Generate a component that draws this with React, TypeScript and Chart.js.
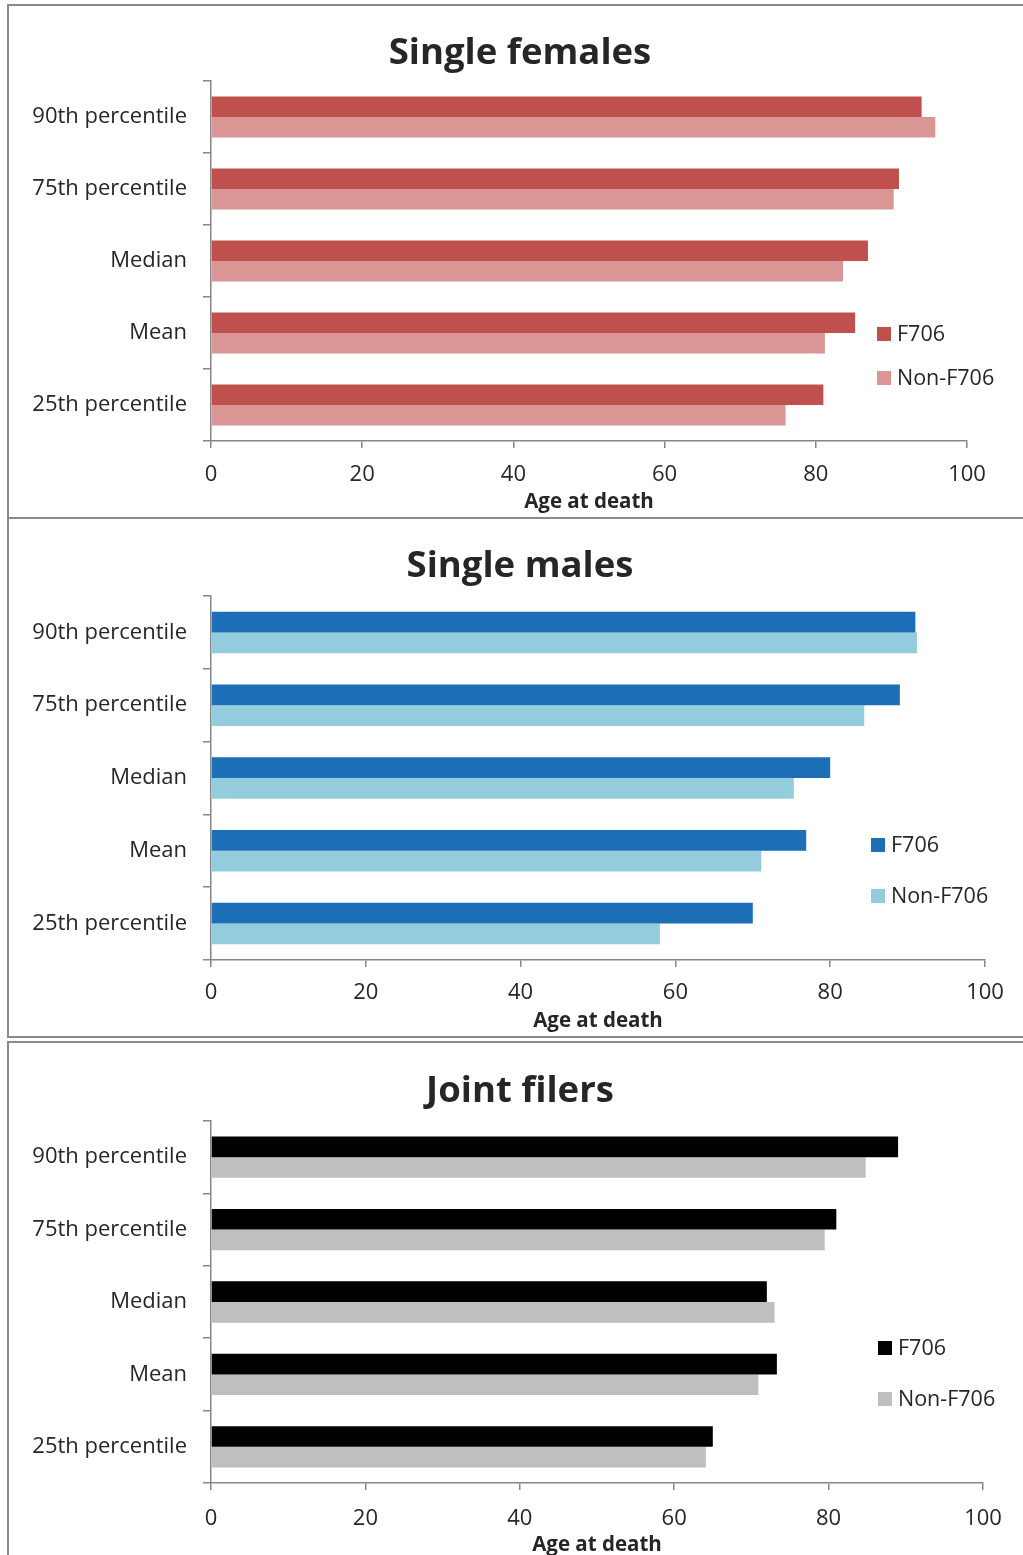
import React, { useEffect, useRef } from "react";
import { Chart, registerables } from "chart.js";

Chart.register(...registerables);

// ---------- data ----------
const categories = ["90th percentile", "75th percentile", "Median", "Mean", "25th percentile"];
const seriesNames = ["F706", "Non-F706"];
const xTickValues = [0, 20, 40, 60, 80, 100];

const femalesF706 = [94.0, 91.0, 86.9, 85.2, 81.0];
const femalesNon = [95.8, 90.3, 83.6, 81.2, 76.0];

const malesF706 = [91.0, 89.0, 80.0, 76.9, 70.0];
const malesNon = [91.2, 84.4, 75.3, 71.1, 58.0];

const jointF706 = [89.0, 81.0, 72.0, 73.3, 65.0];
const jointNon = [84.8, 79.5, 73.0, 70.9, 64.1];

const panelTitles = ["Single females", "Single males", "Joint filers"];
const axisTitle = "Age at death";

// ---------- styles ----------
const FONT = "'Open Sans', 'DejaVu Sans', sans-serif";
const TEXT = "#262626";
const AXIS = "#868686";
const W = 1023;

type PanelCfg = {
  title: string;
  a: number[];
  b: number[];
  colors: [string, string];
  top: number;
  height: number;
  area: { top: number; bottom: number; right: number };
  titleBaseline: number;
  tickPad: number;
  axisTitlePad: number;
  legend: { x: number; y1: number; y2: number };
};

const panels: PanelCfg[] = [
  {
    title: panelTitles[0],
    a: femalesF706,
    b: femalesNon,
    colors: ["#C0504D", "#D99694"],
    top: 0,
    height: 518,
    area: { top: 81, bottom: 441, right: 967 },
    titleBaseline: 64,
    tickPad: 14,
    axisTitlePad: 4,
    legend: { x: 877, y1: 334, y2: 378 },
  },
  {
    title: panelTitles[1],
    a: malesF706,
    b: malesNon,
    colors: ["#1C6EB7", "#93CDDD"],
    top: 518,
    height: 520,
    area: { top: 78, bottom: 442, right: 985 },
    titleBaseline: 59,
    tickPad: 13,
    axisTitlePad: 5,
    legend: { x: 871, y1: 327, y2: 378 },
  },
  {
    title: panelTitles[2],
    a: jointF706,
    b: jointNon,
    colors: ["#000000", "#BFBFBF"],
    top: 1038,
    height: 522,
    area: { top: 83, bottom: 445, right: 983 },
    titleBaseline: 64,
    tickPad: 16,
    axisTitlePad: 3,
    legend: { x: 878, y1: 310, y2: 361 },
  },
];

function Panel({ cfg }: { cfg: PanelCfg }) {
  const ref = useRef<HTMLCanvasElement | null>(null);

  useEffect(() => {
    if (!ref.current) return;
    const H = cfg.height;
    const overlay = {
      id: "overlay",
      afterDraw(chart: any) {
        const ctx = chart.ctx;
        ctx.save();
        // title
        ctx.fillStyle = TEXT;
        ctx.font = `bold 36.5px ${FONT}`;
        ctx.textAlign = "center";
        ctx.textBaseline = "alphabetic";
        ctx.fillText(cfg.title, 520, cfg.titleBaseline);
        // legend
        ctx.font = `21.5px ${FONT}`;
        ctx.textAlign = "left";
        ctx.textBaseline = "middle";
        const ys = [cfg.legend.y1, cfg.legend.y2];
        chart.data.datasets.forEach((ds: any, i: number) => {
          ctx.fillStyle = ds.backgroundColor;
          ctx.fillRect(cfg.legend.x, ys[i] - 7, 14, 14);
          ctx.fillStyle = TEXT;
          ctx.fillText(ds.label, cfg.legend.x + 20, ys[i] + 1);
        });
        ctx.restore();
      },
    };

    const chart = new Chart(ref.current, {
      type: "bar",
      data: {
        labels: categories,
        datasets: [
          {
            label: seriesNames[0],
            data: cfg.a,
            backgroundColor: cfg.colors[0],
            categoryPercentage: 0.57,
            barPercentage: 1,
          },
          {
            label: seriesNames[1],
            data: cfg.b,
            backgroundColor: cfg.colors[1],
            categoryPercentage: 0.57,
            barPercentage: 1,
          },
        ],
      },
      options: {
        indexAxis: "y",
        responsive: false,
        animation: false,
        layout: {
          padding: { top: cfg.area.top, right: W - cfg.area.right, bottom: 0, left: 0 },
        },
        plugins: {
          legend: { display: false },
          title: { display: false },
          tooltip: { enabled: false },
        },
        scales: {
          x: {
            min: 0,
            max: 100,
            afterBuildTicks: (s: any) => {
              s.ticks = xTickValues.map((v) => ({ value: v }));
            },
            afterFit: (s: any) => {
              s.height = H - cfg.area.bottom;
            },
            ticks: {
              color: TEXT,
              font: { family: FONT, size: 22 },
              padding: cfg.tickPad,
              maxRotation: 0,
            },
            grid: {
              drawOnChartArea: false,
              drawTicks: true,
              tickLength: 7,
              color: AXIS,
              lineWidth: 1.5,
            },
            border: { color: AXIS, width: 1.5 },
            title: {
              display: true,
              text: axisTitle,
              color: TEXT,
              font: { family: FONT, size: 20.5, weight: "bold" },
              padding: { top: 0, bottom: cfg.axisTitlePad },
            },
          },
          y: {
            afterFit: (s: any) => {
              s.width = 211;
            },
            ticks: {
              color: TEXT,
              font: { family: FONT, size: 22 },
              padding: 16,
            },
            grid: {
              offset: true,
              drawOnChartArea: false,
              drawTicks: true,
              tickLength: 8,
              color: AXIS,
              lineWidth: 1.5,
            },
            border: { color: AXIS, width: 1.5 },
          },
        },
      } as any,
      plugins: [overlay],
    });
    return () => chart.destroy();
  }, [cfg]);

  return (
    <canvas
      ref={ref}
      width={W}
      height={cfg.height}
      style={{ position: "absolute", left: 0, top: cfg.top, width: W, height: cfg.height }}
    />
  );
}

const lineStyle = (l: number, t: number, w: number, h: number): React.CSSProperties => ({
  position: "absolute",
  left: l,
  top: t,
  width: w,
  height: h,
  background: "#898989",
});

export default function App() {
  return (
    <div
      style={{
        position: "absolute",
        left: 0,
        top: 0,
        width: W,
        height: 1555,
        overflow: "hidden",
        background: "#fff",
      }}
    >
      {panels.map((p, i) => (
        <Panel key={i} cfg={p} />
      ))}
      <div style={lineStyle(7, 4, 1020, 2)} />
      <div style={lineStyle(7, 517, 1020, 2)} />
      <div style={lineStyle(7, 1036, 1020, 2)} />
      <div style={lineStyle(7, 1041, 1020, 2)} />
      <div style={lineStyle(7, 4, 2, 1034)} />
      <div style={lineStyle(7, 1041, 2, 520)} />
    </div>
  );
}
